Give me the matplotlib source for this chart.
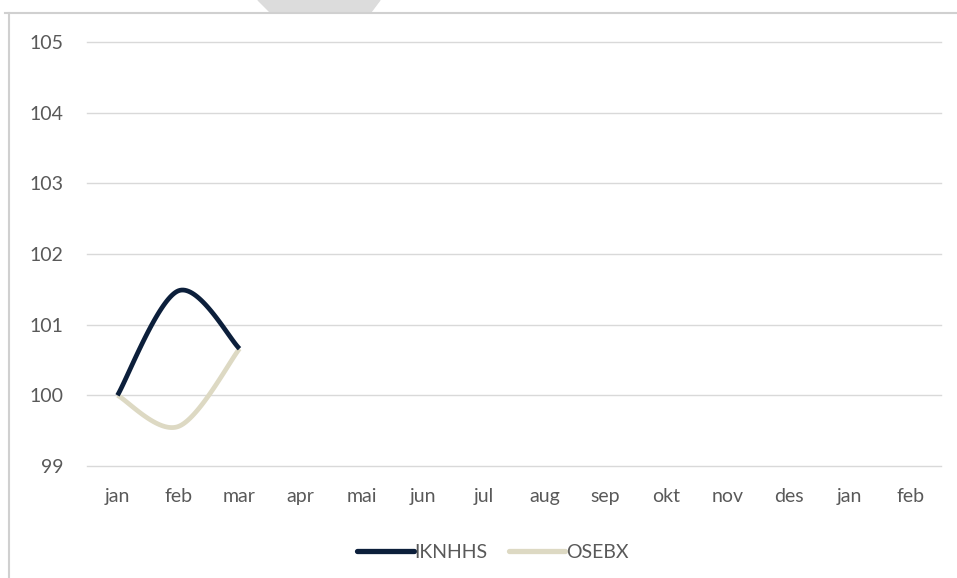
import numpy as np
import matplotlib.pyplot as plt
from matplotlib.patches import Polygon
from matplotlib.lines import Line2D

# data
months = ["jan", "feb", "mar", "apr", "mai", "jun", "jul",
          "aug", "sep", "okt", "nov", "des", "jan", "feb"]
iknhhs = [100.0, 101.48, 100.66]
osebx = [100.0, 99.56, 100.66]
y_ticks = [99, 100, 101, 102, 103, 104, 105]

navy = "#0c1f3b"
tan = "#ddd9c3"
txt = "#595959"


def smooth(xs, ys, n=40):
    # Excel-like smoothed line: cubic bezier, control points from neighbours
    xs = np.asarray(xs, float)
    ys = np.asarray(ys, float)
    px = np.concatenate([[xs[0]], xs, [xs[-1]]])
    py = np.concatenate([[ys[0]], ys, [ys[-1]]])
    out_x, out_y = [], []
    t = np.linspace(0, 1, n)
    for i in range(1, len(px) - 2):
        p0 = np.array([px[i], py[i]])
        p3 = np.array([px[i + 1], py[i + 1]])
        c1 = p0 + (np.array([px[i + 1], py[i + 1]]) - np.array([px[i - 1], py[i - 1]])) / 6
        c2 = p3 - (np.array([px[i + 2], py[i + 2]]) - np.array([px[i], py[i]])) / 6
        b = ((1 - t) ** 3)[:, None] * p0 + (3 * (1 - t) ** 2 * t)[:, None] * c1 \
            + (3 * (1 - t) * t ** 2)[:, None] * c2 + (t ** 3)[:, None] * p3
        out_x.extend(b[:, 0])
        out_y.extend(b[:, 1])
    return out_x, out_y


plt.rcParams['font.family'] = ['Lato', 'DejaVu Sans']

fig = plt.figure(figsize=(9.57, 5.78), dpi=100)
ax = fig.add_axes([87 / 957, 1 - 466 / 578, 854 / 957, 424 / 578])

x = np.arange(len(months))
sx, sy = smooth(x[:len(iknhhs)], iknhhs)
ax.plot(sx, sy, color=navy, lw=3.4, solid_capstyle="butt", zorder=3)
sx, sy = smooth(x[:len(osebx)], osebx)
ax.plot(sx, sy, color=tan, lw=3.4, solid_capstyle="butt", zorder=2)

ax.set_xlim(-0.5, len(months) - 0.5)
ax.set_ylim(99, 105)
ax.set_yticks(y_ticks)
ax.set_yticklabels([str(v) for v in y_ticks])
ax.set_xticks(x)
ax.set_xticklabels(months)
ax.grid(axis="y", color="#d9d9d9", lw=1.0)
for gl in ax.get_ygridlines():
    gl.set_clip_on(False)
ax.set_axisbelow(True)
for s in ax.spines.values():
    s.set_visible(False)
ax.tick_params(length=0, colors=txt, labelsize=14)
ax.tick_params(axis="y", pad=17)
ax.tick_params(axis="x", pad=16)

handles = [Line2D([], [], color=navy, lw=3.8, solid_capstyle="round"),
           Line2D([], [], color=tan, lw=3.8, solid_capstyle="round")]
fig.legend(handles, ["IKNHHS", "OSEBX"], loc="center", bbox_to_anchor=(493 / 957, 1 - 552 / 578),
           ncol=2, frameon=False, fontsize=14, labelcolor=txt, handlelength=2.9,
           handletextpad=0.05, columnspacing=1.1)

# page frame and decoration
fig.add_artist(Line2D([5 / 957, 1], [1 - 13 / 578] * 2, color="#d0d0d0", lw=1.5,
                      transform=fig.transFigure))
fig.add_artist(Line2D([9 / 957] * 2, [0, 1 - 13 / 578], color="#d0d0d0", lw=1.5,
                      transform=fig.transFigure))
fig.add_artist(Polygon([[258 / 957, 1], [380 / 957, 1], [371 / 957, 1 - 12 / 578],
                        [270 / 957, 1 - 12 / 578]], closed=True, color="#dcdcdc",
                       transform=fig.transFigure))

fig.savefig("out.png", dpi=100, facecolor="white")
